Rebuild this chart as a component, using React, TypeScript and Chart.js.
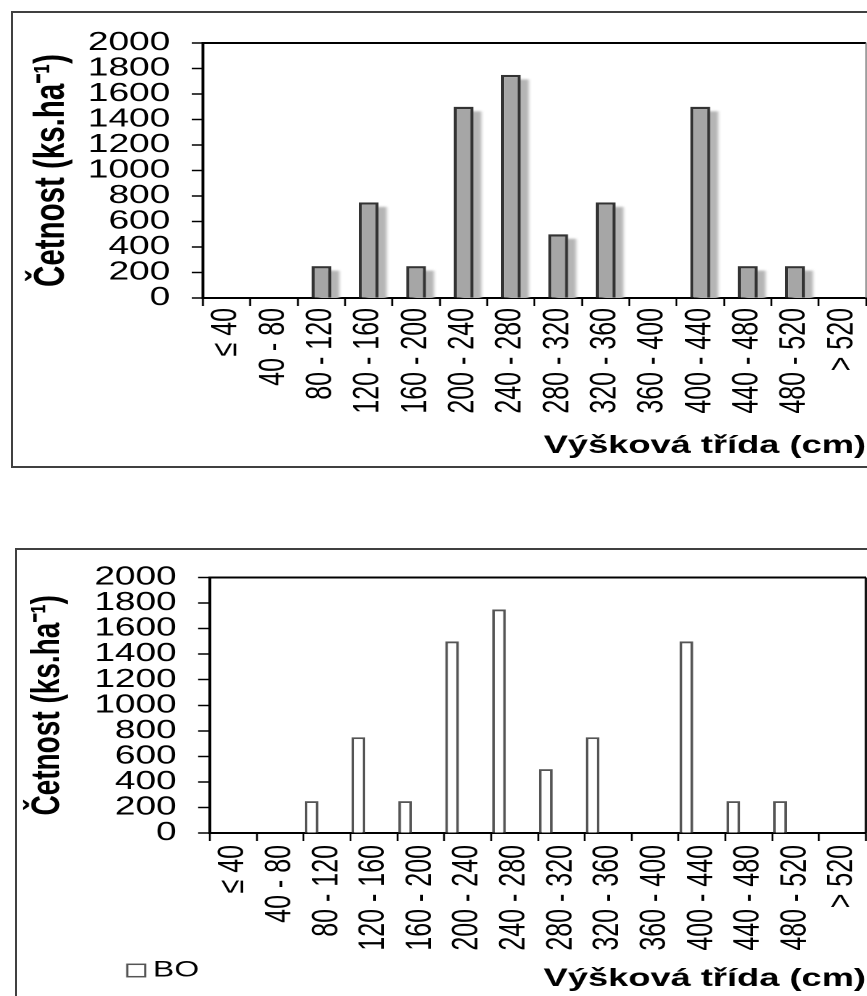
import React, { useEffect, useRef } from 'react';
import { Chart, registerables } from 'chart.js';

Chart.register(...registerables);

// ---------- data ----------
const categories = [
  '≤ 40', '40 - 80', '80 - 120', '120 - 160', '160 - 200', '200 - 240', '240 - 280',
  '280 - 320', '320 - 360', '360 - 400', '400 - 440', '440 - 480', '480 - 520', '> 520',
];
const topValues = [0, 0, 250, 750, 250, 1500, 1750, 500, 750, 0, 1500, 250, 250, 0];
const bottomValues = [0, 0, 250, 750, 250, 1500, 1750, 500, 750, 0, 1500, 250, 250, 0];
// further series of the lower chart (no values in this crop)
const otherSeriesA = [null, null, null, null, null, null, null, null, null, null, null, null, null, null];
const otherSeriesB = [null, null, null, null, null, null, null, null, null, null, null, null, null, null];
const seriesName = 'BO';
const yMin = 0;
const yMax = 2000;
const yStep = 200;
const yTitle = 'Četnost (ks.ha⁻¹)';
const xTitle = 'Výšková třída (cm)';

// ---------- look ----------
const FONT = '"Liberation Sans", Arial, Helvetica, sans-serif';
const SX = 1.45; // horizontal stretch of the original picture
const LW = 620; // logical canvas width
const LH = 453; // canvas height

const shadowPlugin = {
  id: 'barShadow',
  beforeDatasetsDraw(chart: any, _args: any, opts: any) {
    if (!opts || !opts.enabled) return;
    const { ctx, chartArea } = chart;
    const meta = chart.getDatasetMeta(0);
    ctx.save();
    ctx.beginPath();
    ctx.rect(chartArea.left, chartArea.top, chartArea.right - chartArea.left, chartArea.bottom - chartArea.top);
    ctx.clip();
    ctx.fillStyle = opts.color;
    ctx.filter = `blur(${opts.blur}px)`;
    meta.data.forEach((el: any) => {
      const { x, y, base, width } = el.getProps(['x', 'y', 'base', 'width'], true);
      if (Math.abs(base - y) < 0.5) return;
      ctx.fillRect(x - width / 2 + opts.dx, y + opts.dy, width, base - y);
    });
    ctx.restore();
  },
};

const framePlugin = {
  id: 'plotFrame',
  afterDraw(chart: any, _args: any, opts: any) {
    const { ctx, chartArea } = chart;
    const { left, top, right, bottom } = chartArea;
    ctx.save();
    ctx.strokeStyle = opts.topColor;
    ctx.lineWidth = opts.topWidth;
    ctx.beginPath();
    ctx.moveTo(left, top);
    ctx.lineTo(right, top);
    ctx.stroke();
    ctx.strokeStyle = opts.rightColor;
    ctx.lineWidth = opts.rightWidth;
    ctx.beginPath();
    ctx.moveTo(right, top);
    ctx.lineTo(right, bottom);
    ctx.stroke();
    ctx.restore();
  },
};

const cornerLegendPlugin = {
  id: 'cornerLegend',
  afterDraw(chart: any, _args: any, opts: any) {
    if (!opts || !opts.display) return;
    const ds = chart.data.datasets[0];
    const { ctx } = chart;
    const { x, y, box, gap, size } = opts;
    ctx.save();
    ctx.fillStyle = ds.backgroundColor;
    ctx.fillRect(x, y - box / 2, box, box);
    ctx.strokeStyle = ds.borderColor;
    ctx.lineWidth = 1.5;
    ctx.strokeRect(x, y - box / 2, box, box);
    ctx.font = `normal ${size}px ${FONT}`;
    ctx.fillStyle = '#000';
    ctx.textAlign = 'left';
    ctx.textBaseline = 'middle';
    ctx.fillText(ds.label, x + box + gap, y);
    ctx.restore();
  },
};

function xScale(tickPad: number, titlePad: number, height: number) {
  return {
    type: 'category',
    grid: { offset: true, drawOnChartArea: false, tickLength: 8, tickColor: '#000', tickWidth: 1.3 },
    border: { display: true, color: '#000', width: 2 },
    ticks: {
      autoSkip: false,
      minRotation: 90,
      maxRotation: 90,
      padding: tickPad,
      color: '#000',
      font: { family: FONT, size: 25 },
    },
    title: {
      display: true,
      text: xTitle,
      align: 'end',
      color: '#000',
      font: { family: FONT, size: 25, weight: 'bold' },
      padding: { top: 0, bottom: titlePad },
    },
    afterFit: (s: any) => {
      s.height = height;
    },
  };
}

function yScale(width: number, labelPad: number, tickLen: number, titleSize: number, titlePad: number) {
  return {
    type: 'linear',
    min: yMin,
    max: yMax,
    ticks: {
      stepSize: yStep,
      autoSkip: false,
      color: '#000',
      padding: labelPad,
      font: { family: FONT, size: 25.5, lineHeight: 1 },
      callback: (v: any) => String(v),
    },
    grid: { drawOnChartArea: false, tickLength: tickLen, tickColor: '#000', tickWidth: 1.5 },
    border: { display: true, color: '#000', width: 2 },
    title: {
      display: true,
      text: yTitle,
      color: '#000',
      font: { family: FONT, size: titleSize, weight: 'bold' },
      padding: { top: titlePad, bottom: 0 },
    },
    afterFit: (s: any) => {
      s.width = width;
    },
  };
}

function topConfig(): any {
  return {
    type: 'bar',
    data: {
      labels: categories,
      datasets: [
        {
          label: seriesName,
          data: topValues,
          backgroundColor: '#a6a6a6',
          borderColor: '#333333',
          borderWidth: 2.2,
          barPercentage: 0.42,
          categoryPercentage: 1,
        },
      ],
    },
    options: {
      responsive: false,
      animation: false,
      devicePixelRatio: 2,
      events: [],
      layout: { padding: { top: 30, left: 0, right: 31.7, bottom: 0 } },
      plugins: {
        legend: { display: false },
        tooltip: { enabled: false },
        barShadow: { enabled: true, dx: 5.5, dy: 4.5, color: '#b5b5b5', blur: 2 },
        plotFrame: { topColor: '#000', topWidth: 2, rightColor: '#777', rightWidth: 1 },
      },
      scales: {
        x: xScale(2, 5, 168),
        y: yScale(131, 15, 7.6, 29.5, 9.3),
      },
    },
    plugins: [shadowPlugin, framePlugin],
  };
}

function bottomConfig(): any {
  const common = { backgroundColor: '#ffffff', borderColor: '#555555', borderWidth: 1.9, barPercentage: 0.88, categoryPercentage: 1 };
  return {
    type: 'bar',
    data: {
      labels: categories,
      datasets: [
        { label: seriesName, data: bottomValues, ...common },
        { label: '', data: otherSeriesA, ...common },
        { label: '', data: otherSeriesB, ...common },
      ],
    },
    options: {
      responsive: false,
      animation: false,
      devicePixelRatio: 2,
      events: [],
      layout: { padding: { top: 27, left: 0, right: 34.5, bottom: 0 } },
      plugins: {
        legend: { display: false },
        tooltip: { enabled: false },
        plotFrame: { topColor: '#000', topWidth: 2, rightColor: '#000', rightWidth: 1.6 },
        cornerLegend: { display: true, x: 76, y: 420.5, box: 12.4, gap: 5.4, size: 22 },
      },
      scales: {
        x: xScale(4, 9, 170),
        y: yScale(133.1, 14.8, 8.2, 28, 4.6),
      },
    },
    plugins: [framePlugin, cornerLegendPlugin],
  };
}

function Panel(props: { make: () => any; box: React.CSSProperties }) {
  const ref = useRef<HTMLCanvasElement | null>(null);
  useEffect(() => {
    const canvas = ref.current!;
    canvas.width = LW;
    canvas.height = LH;
    canvas.style.width = `${LW * SX}px`;
    canvas.style.height = `${LH}px`;
    const chart = new Chart(canvas, props.make());
    return () => chart.destroy();
  }, []);
  return (
    <div style={{ position: 'absolute', overflow: 'hidden', background: '#fff', boxSizing: 'content-box', ...props.box }}>
      <canvas ref={ref} width={LW} height={LH} style={{ display: 'block', width: `${LW * SX}px`, height: `${LH}px` }} />
    </div>
  );
}

export default function App() {
  useEffect(() => {
    document.documentElement.style.overflow = 'hidden';
    document.body.style.overflow = 'hidden';
    document.body.style.margin = '0';
    document.body.style.background = '#fff';
  }, []);
  return (
    <div>
      <Panel
        make={topConfig}
        box={{
          left: 11,
          top: 11,
          width: 854,
          height: LH,
          borderTop: '2px solid #404040',
          borderLeft: '2px solid #404040',
          borderBottom: '2px solid #404040',
        }}
      />
      <Panel
        make={bottomConfig}
        box={{
          left: 15,
          top: 548,
          width: 850,
          height: 446,
          borderTop: '2px solid #404040',
          borderLeft: '2px solid #404040',
        }}
      />
    </div>
  );
}
